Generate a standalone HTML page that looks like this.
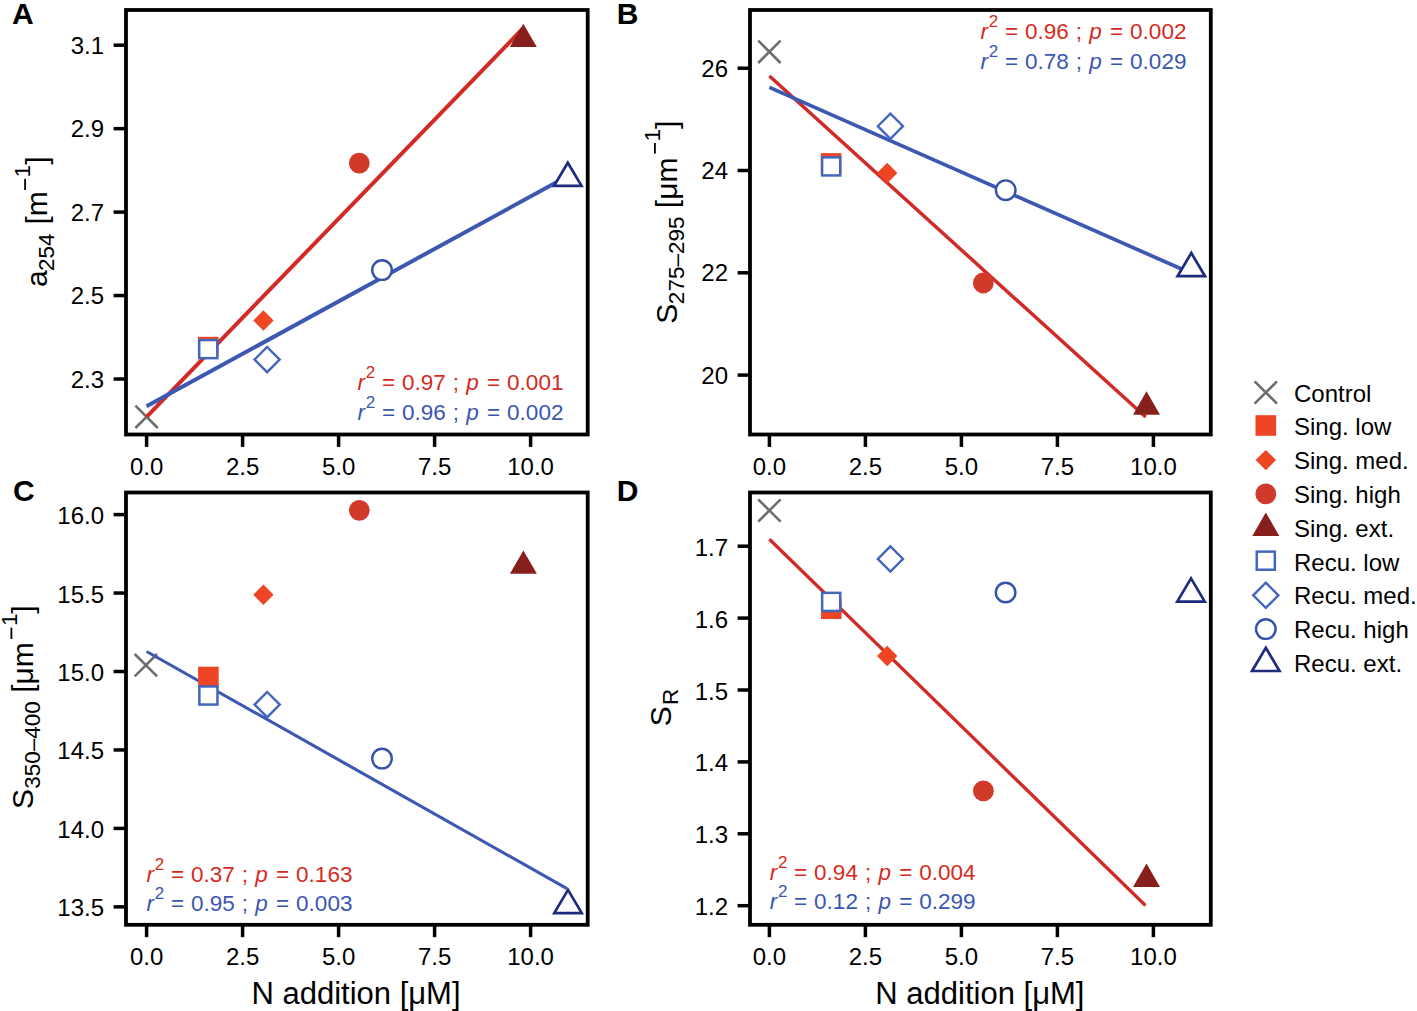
<!DOCTYPE html><html><head><meta charset="utf-8"><style>html,body{margin:0;padding:0;background:#fff;width:1417px;height:1011px;overflow:hidden}svg{display:block}</style></head><body>
<svg width="1417" height="1011" viewBox="0 0 1417 1011" font-family='"Liberation Sans", sans-serif'>
<line x1="146.60" y1="434.5" x2="146.60" y2="446.9" stroke="#000" stroke-width="3.5"/>
<text x="146.60" y="474.5" text-anchor="middle" font-size="24">0.0</text>
<line x1="242.60" y1="434.5" x2="242.60" y2="446.9" stroke="#000" stroke-width="3.5"/>
<text x="242.60" y="474.5" text-anchor="middle" font-size="24">2.5</text>
<line x1="338.60" y1="434.5" x2="338.60" y2="446.9" stroke="#000" stroke-width="3.5"/>
<text x="338.60" y="474.5" text-anchor="middle" font-size="24">5.0</text>
<line x1="434.60" y1="434.5" x2="434.60" y2="446.9" stroke="#000" stroke-width="3.5"/>
<text x="434.60" y="474.5" text-anchor="middle" font-size="24">7.5</text>
<line x1="530.60" y1="434.5" x2="530.60" y2="446.9" stroke="#000" stroke-width="3.5"/>
<text x="530.60" y="474.5" text-anchor="middle" font-size="24">10.0</text>
<line x1="113.6" y1="379.00" x2="126" y2="379.00" stroke="#000" stroke-width="3.5"/>
<text x="104" y="387.50" text-anchor="end" font-size="24">2.3</text>
<line x1="113.6" y1="295.55" x2="126" y2="295.55" stroke="#000" stroke-width="3.5"/>
<text x="104" y="304.05" text-anchor="end" font-size="24">2.5</text>
<line x1="113.6" y1="212.10" x2="126" y2="212.10" stroke="#000" stroke-width="3.5"/>
<text x="104" y="220.60" text-anchor="end" font-size="24">2.7</text>
<line x1="113.6" y1="128.65" x2="126" y2="128.65" stroke="#000" stroke-width="3.5"/>
<text x="104" y="137.15" text-anchor="end" font-size="24">2.9</text>
<line x1="113.6" y1="45.20" x2="126" y2="45.20" stroke="#000" stroke-width="3.5"/>
<text x="104" y="53.70" text-anchor="end" font-size="24">3.1</text>
<text x="12" y="24" font-size="30" font-weight="bold">A</text>
<path d="M135.40,405.60L157.80,428.00M135.40,428.00L157.80,405.60" stroke="#6e6e6e" stroke-width="2.6" fill="none"/>
<line x1="146.6" y1="416.8" x2="522.9" y2="28.5" stroke="#d12b27" stroke-width="4.0"/>
<line x1="146.6" y1="406.3" x2="568" y2="176" stroke="#3c58b2" stroke-width="4.0"/>
<rect x="197.90" y="336.80" width="20.6" height="20.6" fill="#ee4525"/>
<rect x="199.20" y="340.05" width="18.1" height="18.1" fill="#fff" stroke="#4467bc" stroke-width="2.5"/>
<path d="M263.40,310.30L273.60,320.50L263.40,330.70L253.20,320.50Z" fill="#ee4525"/>
<path d="M267.10,347.00L279.70,359.60L267.10,372.20L254.50,359.60Z" fill="#fff" stroke="#4467bc" stroke-width="2.4"/>
<circle cx="359.30" cy="163.10" r="10.4" fill="#d13a2a"/>
<circle cx="382.00" cy="270.10" r="9.8" fill="#fff" stroke="#3552aa" stroke-width="2.4"/>
<path d="M523.30,23.70L536.80,47.10L509.80,47.10Z" fill="#871f1d"/>
<path d="M567.80,162.70L581.55,185.90L554.05,185.90Z" fill="#fff" stroke="#1f2c7c" stroke-width="2.7" stroke-linejoin="miter"/>
<text x="357.43" y="389.60" fill="#d42b22" font-size="22.5" font-style="italic">r</text>
<text x="365.85" y="377.80" fill="#d42b22" font-size="17">2</text>
<text x="381.90" y="389.60" fill="#d42b22" font-size="22.5">=</text>
<text x="401.92" y="389.60" fill="#d42b22" font-size="22.5">0.97</text>
<text x="452.78" y="389.60" fill="#d42b22" font-size="22.5">;</text>
<text x="466.26" y="389.60" fill="#d42b22" font-size="22.5" font-style="italic">p</text>
<text x="487.00" y="389.60" fill="#d42b22" font-size="22.5">=</text>
<text x="507.12" y="389.60" fill="#d42b22" font-size="22.5">0.001</text>
<text x="357.43" y="419.60" fill="#3b56b0" font-size="22.5" font-style="italic">r</text>
<text x="365.85" y="407.80" fill="#3b56b0" font-size="17">2</text>
<text x="381.90" y="419.60" fill="#3b56b0" font-size="22.5">=</text>
<text x="401.92" y="419.60" fill="#3b56b0" font-size="22.5">0.96</text>
<text x="452.78" y="419.60" fill="#3b56b0" font-size="22.5">;</text>
<text x="466.26" y="419.60" fill="#3b56b0" font-size="22.5" font-style="italic">p</text>
<text x="487.00" y="419.60" fill="#3b56b0" font-size="22.5">=</text>
<text x="507.12" y="419.60" fill="#3b56b0" font-size="22.5">0.002</text>
<rect x="126" y="10" width="461.70" height="424.50" fill="none" stroke="#000" stroke-width="3.8"/>
<line x1="769.40" y1="434.5" x2="769.40" y2="446.9" stroke="#000" stroke-width="3.5"/>
<text x="769.40" y="474.5" text-anchor="middle" font-size="24">0.0</text>
<line x1="865.40" y1="434.5" x2="865.40" y2="446.9" stroke="#000" stroke-width="3.5"/>
<text x="865.40" y="474.5" text-anchor="middle" font-size="24">2.5</text>
<line x1="961.40" y1="434.5" x2="961.40" y2="446.9" stroke="#000" stroke-width="3.5"/>
<text x="961.40" y="474.5" text-anchor="middle" font-size="24">5.0</text>
<line x1="1057.40" y1="434.5" x2="1057.40" y2="446.9" stroke="#000" stroke-width="3.5"/>
<text x="1057.40" y="474.5" text-anchor="middle" font-size="24">7.5</text>
<line x1="1153.40" y1="434.5" x2="1153.40" y2="446.9" stroke="#000" stroke-width="3.5"/>
<text x="1153.40" y="474.5" text-anchor="middle" font-size="24">10.0</text>
<line x1="737.6" y1="375.10" x2="750" y2="375.10" stroke="#000" stroke-width="3.5"/>
<text x="728" y="383.60" text-anchor="end" font-size="24">20</text>
<line x1="737.6" y1="272.80" x2="750" y2="272.80" stroke="#000" stroke-width="3.5"/>
<text x="728" y="281.30" text-anchor="end" font-size="24">22</text>
<line x1="737.6" y1="170.50" x2="750" y2="170.50" stroke="#000" stroke-width="3.5"/>
<text x="728" y="179.00" text-anchor="end" font-size="24">24</text>
<line x1="737.6" y1="68.20" x2="750" y2="68.20" stroke="#000" stroke-width="3.5"/>
<text x="728" y="76.70" text-anchor="end" font-size="24">26</text>
<text x="616.8" y="24" font-size="30" font-weight="bold">B</text>
<path d="M758.20,40.60L780.60,63.00M758.20,63.00L780.60,40.60" stroke="#6e6e6e" stroke-width="2.6" fill="none"/>
<line x1="769.4" y1="76" x2="1145.7" y2="417" stroke="#d12b27" stroke-width="3.5"/>
<line x1="769.4" y1="87.4" x2="1191.8" y2="273.5" stroke="#3c58b2" stroke-width="3.7"/>
<rect x="820.80" y="153.10" width="20.6" height="20.6" fill="#ee4525"/>
<rect x="822.10" y="157.35" width="18.1" height="18.1" fill="#fff" stroke="#4467bc" stroke-width="2.5"/>
<path d="M887.20,162.80L897.40,173.00L887.20,183.20L877.00,173.00Z" fill="#ee4525"/>
<path d="M890.40,113.60L903.00,126.20L890.40,138.80L877.80,126.20Z" fill="#fff" stroke="#4467bc" stroke-width="2.4"/>
<circle cx="983.30" cy="283.00" r="10.4" fill="#d13a2a"/>
<circle cx="1005.70" cy="190.20" r="9.8" fill="#fff" stroke="#3552aa" stroke-width="2.4"/>
<path d="M1146.50,391.30L1160.00,414.70L1133.00,414.70Z" fill="#871f1d"/>
<path d="M1191.30,253.00L1205.05,276.20L1177.55,276.20Z" fill="#fff" stroke="#1f2c7c" stroke-width="2.7" stroke-linejoin="miter"/>
<text x="980.43" y="38.50" fill="#d42b22" font-size="22.5" font-style="italic">r</text>
<text x="988.85" y="26.70" fill="#d42b22" font-size="17">2</text>
<text x="1004.90" y="38.50" fill="#d42b22" font-size="22.5">=</text>
<text x="1024.92" y="38.50" fill="#d42b22" font-size="22.5">0.96</text>
<text x="1075.78" y="38.50" fill="#d42b22" font-size="22.5">;</text>
<text x="1089.26" y="38.50" fill="#d42b22" font-size="22.5" font-style="italic">p</text>
<text x="1110.00" y="38.50" fill="#d42b22" font-size="22.5">=</text>
<text x="1130.12" y="38.50" fill="#d42b22" font-size="22.5">0.002</text>
<text x="980.43" y="68.50" fill="#3b56b0" font-size="22.5" font-style="italic">r</text>
<text x="988.85" y="56.70" fill="#3b56b0" font-size="17">2</text>
<text x="1004.90" y="68.50" fill="#3b56b0" font-size="22.5">=</text>
<text x="1024.92" y="68.50" fill="#3b56b0" font-size="22.5">0.78</text>
<text x="1075.78" y="68.50" fill="#3b56b0" font-size="22.5">;</text>
<text x="1089.26" y="68.50" fill="#3b56b0" font-size="22.5" font-style="italic">p</text>
<text x="1110.00" y="68.50" fill="#3b56b0" font-size="22.5">=</text>
<text x="1130.12" y="68.50" fill="#3b56b0" font-size="22.5">0.029</text>
<rect x="750" y="10" width="460.80" height="424.50" fill="none" stroke="#000" stroke-width="3.8"/>
<line x1="146.60" y1="924.8" x2="146.60" y2="937.1999999999999" stroke="#000" stroke-width="3.5"/>
<text x="146.60" y="964.8" text-anchor="middle" font-size="24">0.0</text>
<line x1="242.60" y1="924.8" x2="242.60" y2="937.1999999999999" stroke="#000" stroke-width="3.5"/>
<text x="242.60" y="964.8" text-anchor="middle" font-size="24">2.5</text>
<line x1="338.60" y1="924.8" x2="338.60" y2="937.1999999999999" stroke="#000" stroke-width="3.5"/>
<text x="338.60" y="964.8" text-anchor="middle" font-size="24">5.0</text>
<line x1="434.60" y1="924.8" x2="434.60" y2="937.1999999999999" stroke="#000" stroke-width="3.5"/>
<text x="434.60" y="964.8" text-anchor="middle" font-size="24">7.5</text>
<line x1="530.60" y1="924.8" x2="530.60" y2="937.1999999999999" stroke="#000" stroke-width="3.5"/>
<text x="530.60" y="964.8" text-anchor="middle" font-size="24">10.0</text>
<line x1="113.6" y1="906.85" x2="126" y2="906.85" stroke="#000" stroke-width="3.5"/>
<text x="104" y="916.35" text-anchor="end" font-size="24">13.5</text>
<line x1="113.6" y1="828.40" x2="126" y2="828.40" stroke="#000" stroke-width="3.5"/>
<text x="104" y="837.90" text-anchor="end" font-size="24">14.0</text>
<line x1="113.6" y1="749.95" x2="126" y2="749.95" stroke="#000" stroke-width="3.5"/>
<text x="104" y="759.45" text-anchor="end" font-size="24">14.5</text>
<line x1="113.6" y1="671.50" x2="126" y2="671.50" stroke="#000" stroke-width="3.5"/>
<text x="104" y="681.00" text-anchor="end" font-size="24">15.0</text>
<line x1="113.6" y1="593.05" x2="126" y2="593.05" stroke="#000" stroke-width="3.5"/>
<text x="104" y="602.55" text-anchor="end" font-size="24">15.5</text>
<line x1="113.6" y1="514.60" x2="126" y2="514.60" stroke="#000" stroke-width="3.5"/>
<text x="104" y="524.10" text-anchor="end" font-size="24">16.0</text>
<text x="13" y="501" font-size="30" font-weight="bold">C</text>
<path d="M134.70,654.00L157.10,676.40M134.70,676.40L157.10,654.00" stroke="#6e6e6e" stroke-width="2.6" fill="none"/>
<line x1="146.6" y1="651.5" x2="567" y2="888.6" stroke="#3c58b2" stroke-width="3.1"/>
<rect x="198.10" y="666.70" width="20.6" height="20.6" fill="#ee4525"/>
<rect x="199.35" y="686.45" width="18.1" height="18.1" fill="#fff" stroke="#4467bc" stroke-width="2.5"/>
<path d="M263.40,584.60L273.60,594.80L263.40,605.00L253.20,594.80Z" fill="#ee4525"/>
<path d="M267.20,692.00L279.80,704.60L267.20,717.20L254.60,704.60Z" fill="#fff" stroke="#4467bc" stroke-width="2.4"/>
<circle cx="359.30" cy="510.30" r="10.4" fill="#d13a2a"/>
<circle cx="382.00" cy="758.60" r="9.8" fill="#fff" stroke="#3552aa" stroke-width="2.4"/>
<path d="M523.40,550.40L536.90,573.80L509.90,573.80Z" fill="#871f1d"/>
<path d="M568.00,889.90L581.75,913.10L554.25,913.10Z" fill="#fff" stroke="#1f2c7c" stroke-width="2.7" stroke-linejoin="miter"/>
<text x="146.43" y="881.50" fill="#d42b22" font-size="22.5" font-style="italic">r</text>
<text x="154.85" y="869.70" fill="#d42b22" font-size="17">2</text>
<text x="170.90" y="881.50" fill="#d42b22" font-size="22.5">=</text>
<text x="190.92" y="881.50" fill="#d42b22" font-size="22.5">0.37</text>
<text x="241.78" y="881.50" fill="#d42b22" font-size="22.5">;</text>
<text x="255.26" y="881.50" fill="#d42b22" font-size="22.5" font-style="italic">p</text>
<text x="276.00" y="881.50" fill="#d42b22" font-size="22.5">=</text>
<text x="296.12" y="881.50" fill="#d42b22" font-size="22.5">0.163</text>
<text x="146.43" y="910.50" fill="#3b56b0" font-size="22.5" font-style="italic">r</text>
<text x="154.85" y="898.70" fill="#3b56b0" font-size="17">2</text>
<text x="170.90" y="910.50" fill="#3b56b0" font-size="22.5">=</text>
<text x="190.92" y="910.50" fill="#3b56b0" font-size="22.5">0.95</text>
<text x="241.78" y="910.50" fill="#3b56b0" font-size="22.5">;</text>
<text x="255.26" y="910.50" fill="#3b56b0" font-size="22.5" font-style="italic">p</text>
<text x="276.00" y="910.50" fill="#3b56b0" font-size="22.5">=</text>
<text x="296.12" y="910.50" fill="#3b56b0" font-size="22.5">0.003</text>
<rect x="126" y="492.5" width="461.70" height="432.30" fill="none" stroke="#000" stroke-width="3.8"/>
<line x1="769.40" y1="924.8" x2="769.40" y2="937.1999999999999" stroke="#000" stroke-width="3.5"/>
<text x="769.40" y="964.8" text-anchor="middle" font-size="24">0.0</text>
<line x1="865.40" y1="924.8" x2="865.40" y2="937.1999999999999" stroke="#000" stroke-width="3.5"/>
<text x="865.40" y="964.8" text-anchor="middle" font-size="24">2.5</text>
<line x1="961.40" y1="924.8" x2="961.40" y2="937.1999999999999" stroke="#000" stroke-width="3.5"/>
<text x="961.40" y="964.8" text-anchor="middle" font-size="24">5.0</text>
<line x1="1057.40" y1="924.8" x2="1057.40" y2="937.1999999999999" stroke="#000" stroke-width="3.5"/>
<text x="1057.40" y="964.8" text-anchor="middle" font-size="24">7.5</text>
<line x1="1153.40" y1="924.8" x2="1153.40" y2="937.1999999999999" stroke="#000" stroke-width="3.5"/>
<text x="1153.40" y="964.8" text-anchor="middle" font-size="24">10.0</text>
<line x1="737.6" y1="905.70" x2="750" y2="905.70" stroke="#000" stroke-width="3.5"/>
<text x="728" y="915.20" text-anchor="end" font-size="24">1.2</text>
<line x1="737.6" y1="833.80" x2="750" y2="833.80" stroke="#000" stroke-width="3.5"/>
<text x="728" y="843.30" text-anchor="end" font-size="24">1.3</text>
<line x1="737.6" y1="761.90" x2="750" y2="761.90" stroke="#000" stroke-width="3.5"/>
<text x="728" y="771.40" text-anchor="end" font-size="24">1.4</text>
<line x1="737.6" y1="690.00" x2="750" y2="690.00" stroke="#000" stroke-width="3.5"/>
<text x="728" y="699.50" text-anchor="end" font-size="24">1.5</text>
<line x1="737.6" y1="618.10" x2="750" y2="618.10" stroke="#000" stroke-width="3.5"/>
<text x="728" y="627.60" text-anchor="end" font-size="24">1.6</text>
<line x1="737.6" y1="546.20" x2="750" y2="546.20" stroke="#000" stroke-width="3.5"/>
<text x="728" y="555.70" text-anchor="end" font-size="24">1.7</text>
<text x="616.8" y="501" font-size="30" font-weight="bold">D</text>
<path d="M758.20,499.30L780.60,521.70M758.20,521.70L780.60,499.30" stroke="#6e6e6e" stroke-width="2.6" fill="none"/>
<line x1="769.4" y1="539.3" x2="1145.5" y2="905.5" stroke="#d12b27" stroke-width="3.3"/>
<rect x="821.00" y="598.40" width="20.6" height="20.6" fill="#ee4525"/>
<rect x="822.15" y="592.85" width="18.1" height="18.1" fill="#fff" stroke="#4467bc" stroke-width="2.5"/>
<path d="M887.20,645.80L897.40,656.00L887.20,666.20L877.00,656.00Z" fill="#ee4525"/>
<path d="M890.40,546.30L903.00,558.90L890.40,571.50L877.80,558.90Z" fill="#fff" stroke="#4467bc" stroke-width="2.4"/>
<circle cx="983.40" cy="790.90" r="10.4" fill="#d13a2a"/>
<circle cx="1005.60" cy="592.50" r="9.8" fill="#fff" stroke="#3552aa" stroke-width="2.4"/>
<path d="M1146.50,863.60L1160.00,887.00L1133.00,887.00Z" fill="#871f1d"/>
<path d="M1191.00,578.40L1204.75,601.60L1177.25,601.60Z" fill="#fff" stroke="#1f2c7c" stroke-width="2.7" stroke-linejoin="miter"/>
<text x="769.63" y="879.50" fill="#d42b22" font-size="22.5" font-style="italic">r</text>
<text x="778.05" y="867.70" fill="#d42b22" font-size="17">2</text>
<text x="794.10" y="879.50" fill="#d42b22" font-size="22.5">=</text>
<text x="814.12" y="879.50" fill="#d42b22" font-size="22.5">0.94</text>
<text x="864.98" y="879.50" fill="#d42b22" font-size="22.5">;</text>
<text x="878.46" y="879.50" fill="#d42b22" font-size="22.5" font-style="italic">p</text>
<text x="899.20" y="879.50" fill="#d42b22" font-size="22.5">=</text>
<text x="919.32" y="879.50" fill="#d42b22" font-size="22.5">0.004</text>
<text x="769.63" y="908.50" fill="#3b56b0" font-size="22.5" font-style="italic">r</text>
<text x="778.05" y="896.70" fill="#3b56b0" font-size="17">2</text>
<text x="794.10" y="908.50" fill="#3b56b0" font-size="22.5">=</text>
<text x="814.12" y="908.50" fill="#3b56b0" font-size="22.5">0.12</text>
<text x="864.98" y="908.50" fill="#3b56b0" font-size="22.5">;</text>
<text x="878.46" y="908.50" fill="#3b56b0" font-size="22.5" font-style="italic">p</text>
<text x="899.20" y="908.50" fill="#3b56b0" font-size="22.5">=</text>
<text x="919.32" y="908.50" fill="#3b56b0" font-size="22.5">0.299</text>
<rect x="750" y="492.5" width="460.80" height="432.30" fill="none" stroke="#000" stroke-width="3.8"/>
<text transform="translate(46.8,0) rotate(-90)" x="-286.97" y="0" font-size="30">a</text>
<text transform="translate(46.8,0) rotate(-90)" x="-270.93" y="6.7" font-size="22.5">254</text>
<text transform="translate(46.8,0) rotate(-90)" x="-224.54" y="0" font-size="30">[m</text>
<rect x="24.20" y="178.9" width="1.8" height="11.10" fill="#000"/>
<text transform="translate(46.8,0) rotate(-90)" x="-177.41" y="-16.5" font-size="22.5">1</text>
<text transform="translate(46.8,0) rotate(-90)" x="-164.83" y="0" font-size="30">]</text>
<text transform="translate(676.6,0) rotate(-90)" x="-323.76" y="0" font-size="30">S</text>
<text transform="translate(676.6,0) rotate(-90)" x="-304.13" y="7.1" font-size="22.5">275–295</text>
<text transform="translate(676.6,0) rotate(-90)" x="-208.14" y="0" font-size="30">[μm</text>
<rect x="654.00" y="143" width="1.8" height="10.60" fill="#000"/>
<text transform="translate(676.6,0) rotate(-90)" x="-141.51" y="-16.5" font-size="22.5">1</text>
<text transform="translate(676.6,0) rotate(-90)" x="-128.93" y="0" font-size="30">]</text>
<text transform="translate(33.1,0) rotate(-90)" x="-808.96" y="0" font-size="30">S</text>
<text transform="translate(33.1,0) rotate(-90)" x="-788.73" y="7.2" font-size="22.5">350–400</text>
<text transform="translate(33.1,0) rotate(-90)" x="-692.84" y="0" font-size="30">[μm</text>
<rect x="10.50" y="627.6" width="1.8" height="11.40" fill="#000"/>
<text transform="translate(33.1,0) rotate(-90)" x="-626.11" y="-16.5" font-size="22.5">1</text>
<text transform="translate(33.1,0) rotate(-90)" x="-613.63" y="0" font-size="30">]</text>
<text transform="translate(671.3,0) rotate(-90)" x="-726.26" y="0" font-size="30">S</text>
<text transform="translate(671.3,0) rotate(-90)" x="-705.05" y="7" font-size="22.5">R</text>
<text x="356" y="1003.8" text-anchor="middle" font-size="31">N addition [μM]</text>
<text x="979.9" y="1004.2" text-anchor="middle" font-size="31">N addition [μM]</text>
<path d="M1254.60,381.30L1277.00,403.70M1254.60,403.70L1277.00,381.30" stroke="#6e6e6e" stroke-width="2.6" fill="none"/>
<text x="1294" y="401.50" font-size="24">Control</text>
<rect x="1255.50" y="415.20" width="20.6" height="20.6" fill="#ee4525"/>
<text x="1294" y="435.30" font-size="24">Sing. low</text>
<path d="M1265.80,449.90L1276.00,460.10L1265.80,470.30L1255.60,460.10Z" fill="#ee4525"/>
<text x="1294" y="469.10" font-size="24">Sing. med.</text>
<circle cx="1265.80" cy="493.90" r="10.4" fill="#d13a2a"/>
<text x="1294" y="502.90" font-size="24">Sing. high</text>
<path d="M1265.80,512.50L1279.30,535.90L1252.30,535.90Z" fill="#871f1d"/>
<text x="1294" y="536.70" font-size="24">Sing. ext.</text>
<rect x="1256.75" y="551.65" width="18.1" height="18.1" fill="#fff" stroke="#4467bc" stroke-width="2.5"/>
<text x="1294" y="570.50" font-size="24">Recu. low</text>
<path d="M1265.80,582.70L1278.40,595.30L1265.80,607.90L1253.20,595.30Z" fill="#fff" stroke="#4467bc" stroke-width="2.4"/>
<text x="1294" y="604.30" font-size="24">Recu. med.</text>
<circle cx="1265.80" cy="629.10" r="9.8" fill="#fff" stroke="#3552aa" stroke-width="2.4"/>
<text x="1294" y="638.10" font-size="24">Recu. high</text>
<path d="M1265.80,647.80L1279.55,671.00L1252.05,671.00Z" fill="#fff" stroke="#1f2c7c" stroke-width="2.7" stroke-linejoin="miter"/>
<text x="1294" y="671.90" font-size="24">Recu. ext.</text>
</svg></body></html>
